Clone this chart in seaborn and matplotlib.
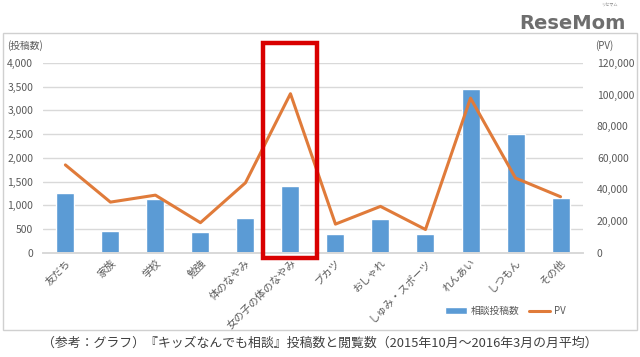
"""
キッズなんでも相談 投稿数とPV（2015年10月～2016年3月の月平均）
"""

import matplotlib
matplotlib.use('Agg')
import matplotlib.pyplot as plt
import matplotlib.patches as mpatches
import matplotlib.transforms as mtransforms
from matplotlib.ticker import FuncFormatter, MultipleLocator
import pandas as pd
import seaborn as sns

# Données
categories = ['友だち', '家族', '学校', '勉強', '体のなやみ', '女の子の体のなやみ',
              'ブカツ', 'おしゃれ', 'しゅみ・スポーツ', 'れんあい', 'しつもん', 'その他']
posts = [1250, 450, 1140, 430, 740, 1410, 390, 720, 390, 3450, 2500, 1150]
pv = [55500, 32000, 36400, 19000, 44200, 100500, 18100, 29300, 14700, 97700, 47200, 35400]
highlight = '女の子の体のなやみ'

caption = '（参考：グラフ）『キッズなんでも相談』投稿数と閲覧数（2015年10月～2016年3月の月平均）'

BAR_COLOR = '#5B9BD5'
LINE_COLOR = '#E07B3A'
GRID_COLOR = '#D9D9D9'
TEXT_COLOR = '#595959'

df = pd.DataFrame({'category': categories, 'posts': posts, 'pv': pv})

sns.set_theme(style='white')
plt.rcParams['font.family'] = ['Noto Sans CJK JP', 'DejaVu Sans']

fig = plt.figure(figsize=(6.4, 3.57), dpi=100)
ax = fig.add_axes([0.067, 0.292, 0.844, 0.532])

# Barres : nombre de consultations
sns.barplot(data=df, x='category', y='posts', color=BAR_COLOR, width=0.4,
            saturation=1, ax=ax, label='相談投稿数', zorder=2)
ax.set_ylim(0, 4000)
ax.yaxis.set_major_locator(MultipleLocator(500))
ax.yaxis.set_major_formatter(FuncFormatter(lambda v, p: f'{v:,.0f}'))
ax.grid(axis='y', color=GRID_COLOR, linewidth=1, zorder=0)
ax.set_axisbelow(True)

# Ligne : PV
ax2 = ax.twinx()
sns.lineplot(data=df, x='category', y='pv', color=LINE_COLOR, linewidth=2.2,
             sort=False, ax=ax2, label='PV')
ax2.set_ylim(0, 120000)
ax2.yaxis.set_major_locator(MultipleLocator(20000))
ax2.yaxis.set_major_formatter(FuncFormatter(lambda v, p: f'{v:,.0f}'))

for a in (ax, ax2):
    a.set_xlabel('')
    a.set_ylabel('')
    for side in ('top', 'left', 'right'):
        a.spines[side].set_visible(False)
    a.spines['bottom'].set_color(GRID_COLOR)
    a.tick_params(length=0, colors=TEXT_COLOR, labelsize=7.5)
ax.tick_params(axis='y', pad=7)
ax2.tick_params(axis='y', pad=10)
ax.set_xlim(-0.5, len(categories) - 0.5)
ax.set_xticks(range(len(categories)))
ax.set_xticklabels(categories, rotation=45, ha='right', rotation_mode='anchor',
                   fontsize=7.5, color=TEXT_COLOR)

ax.text(-0.066, 1.09, '(投稿数)', transform=ax.transAxes, fontsize=7,
        color=TEXT_COLOR, ha='left', va='center')
ax2.text(1.04, 1.09, '(PV)', transform=ax2.transAxes, fontsize=7,
         color=TEXT_COLOR, ha='center', va='center')

# Légende
h1, l1 = ax.get_legend_handles_labels()
h2, l2 = ax2.get_legend_handles_labels()
for a in (ax, ax2):
    if a.get_legend():
        a.get_legend().remove()
fig.legend(h1 + h2, l1 + l2, loc='center', bbox_to_anchor=(0.79, 0.128),
           ncol=2, frameon=False, fontsize=7, labelcolor=TEXT_COLOR,
           handlelength=2.2, columnspacing=1.0, handletextpad=0.4)

# Cadre rouge autour de la catégorie mise en avant
idx = categories.index(highlight)
trans = mtransforms.blended_transform_factory(ax.transData, ax.transAxes)
rect = mpatches.Rectangle((idx - 0.6, -0.03), 1.2, 1.135, transform=trans,
                          fill=False, edgecolor='#D90000', linewidth=3.2,
                          clip_on=False, zorder=5)
ax2.add_patch(rect)

# Cadre gris de la figure
fig.patches.append(mpatches.Rectangle((0.005, 0.077), 0.99, 0.83,
                                      transform=fig.transFigure, fill=False,
                                      edgecolor='#D0D0D0', linewidth=1))

# Logo
fig.text(0.978, 0.935, 'ReseMom', ha='right', va='center', fontsize=14,
         fontweight='bold', color='#6E6E6E', family=['DejaVu Sans'])
fig.text(0.952, 0.985, 'リセマム', ha='center', va='center', fontsize=3,
         color='#8A8A8A')

# Légende du graphique
fig.text(0.5, 0.038, caption, ha='center', va='center', fontsize=9.3,
         color='#404040')

plt.savefig('out.png', dpi=100)
plt.close()
